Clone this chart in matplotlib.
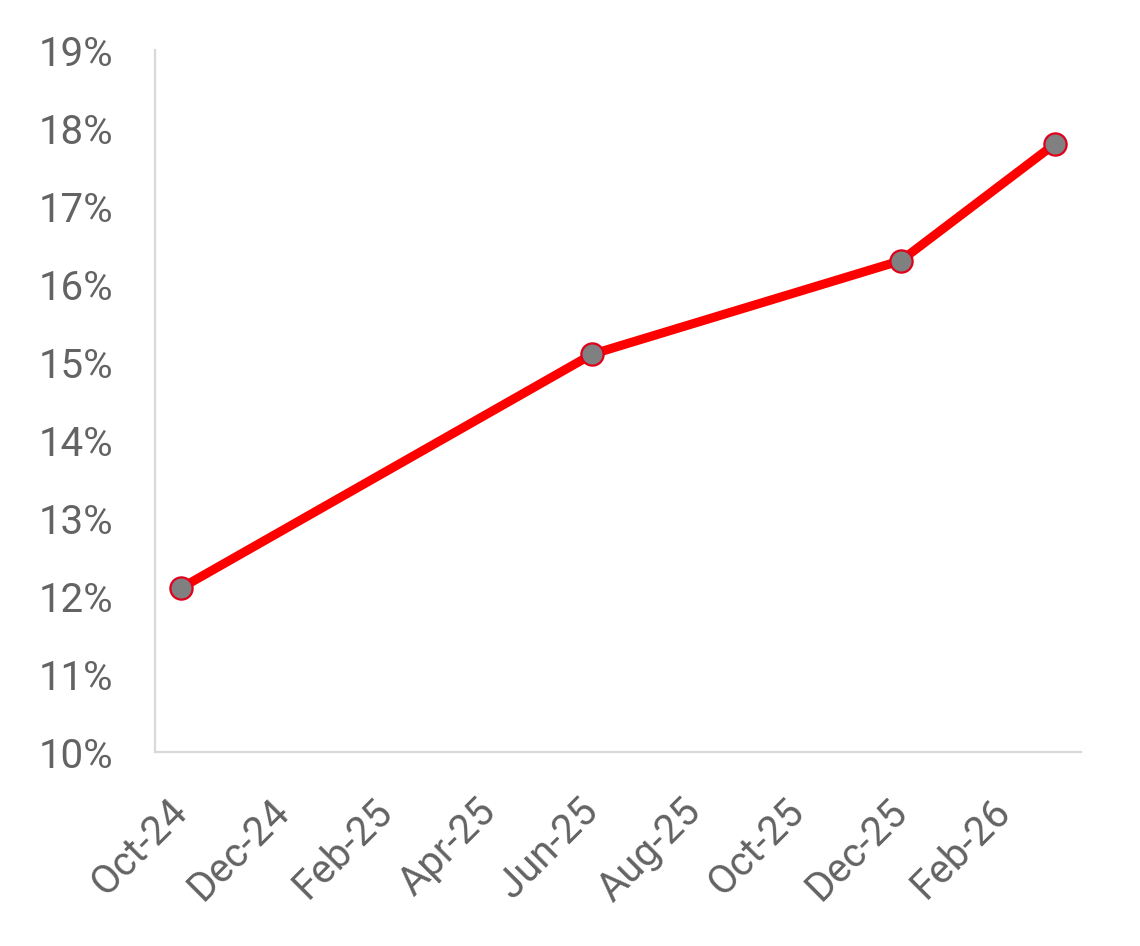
import numpy as np
import pandas as pd
import matplotlib
matplotlib.use("Agg")
import matplotlib.pyplot as plt

# data
dates = ["2024-10", "2025-06", "2025-12", "2026-03"]
values = [12.1, 15.1, 16.3, 17.8]          # percent
tick_months = ["2024-10", "2024-12", "2025-02", "2025-04", "2025-06",
               "2025-08", "2025-10", "2025-12", "2026-02"]
y_ticks = list(range(10, 20))

start = pd.Period("2024-10", freq="M")
def month_idx(s):
    return (pd.Period(s, freq="M") - start).n

x = [month_idx(d) for d in dates]
xt = [month_idx(d) for d in tick_months]
xt_labels = [pd.Period(d, freq="M").strftime("%b-%y") for d in tick_months]

plt.rcParams['font.family'] = ['Roboto', 'DejaVu Sans']
txt_col = '#636363'
axis_col = '#d9d9d9'
fs = 29

fig = plt.figure(figsize=(11.4, 9.46), dpi=100, facecolor='white')
ax = fig.add_axes([155/1140, 1-752/946, (1081-155)/1140, (752-50)/946])

ax.plot(x, values, color='#ff0000', lw=6.5, solid_capstyle='round', zorder=3,
        marker='o', ms=16, mfc='#808080', mec='#e0001b', mew=1.6)

ax.set_xlim(-0.5, 17.5)
ax.set_ylim(10, 19)
ax.set_yticks(y_ticks)
ax.set_yticklabels([f"{v}%" for v in y_ticks])
ax.set_xticks(xt)
ax.set_xticklabels(xt_labels, rotation=45, ha='right', va='center',
                   rotation_mode='anchor')

for s in ['top', 'right']:
    ax.spines[s].set_visible(False)
for s in ['left', 'bottom']:
    ax.spines[s].set_color(axis_col)
    ax.spines[s].set_linewidth(1.6)

ax.tick_params(axis='both', length=0, labelsize=fs, labelcolor=txt_col)
ax.tick_params(axis='y', pad=30)
ax.tick_params(axis='x', pad=38)

fig.savefig("out.png", dpi=100, facecolor='white')
